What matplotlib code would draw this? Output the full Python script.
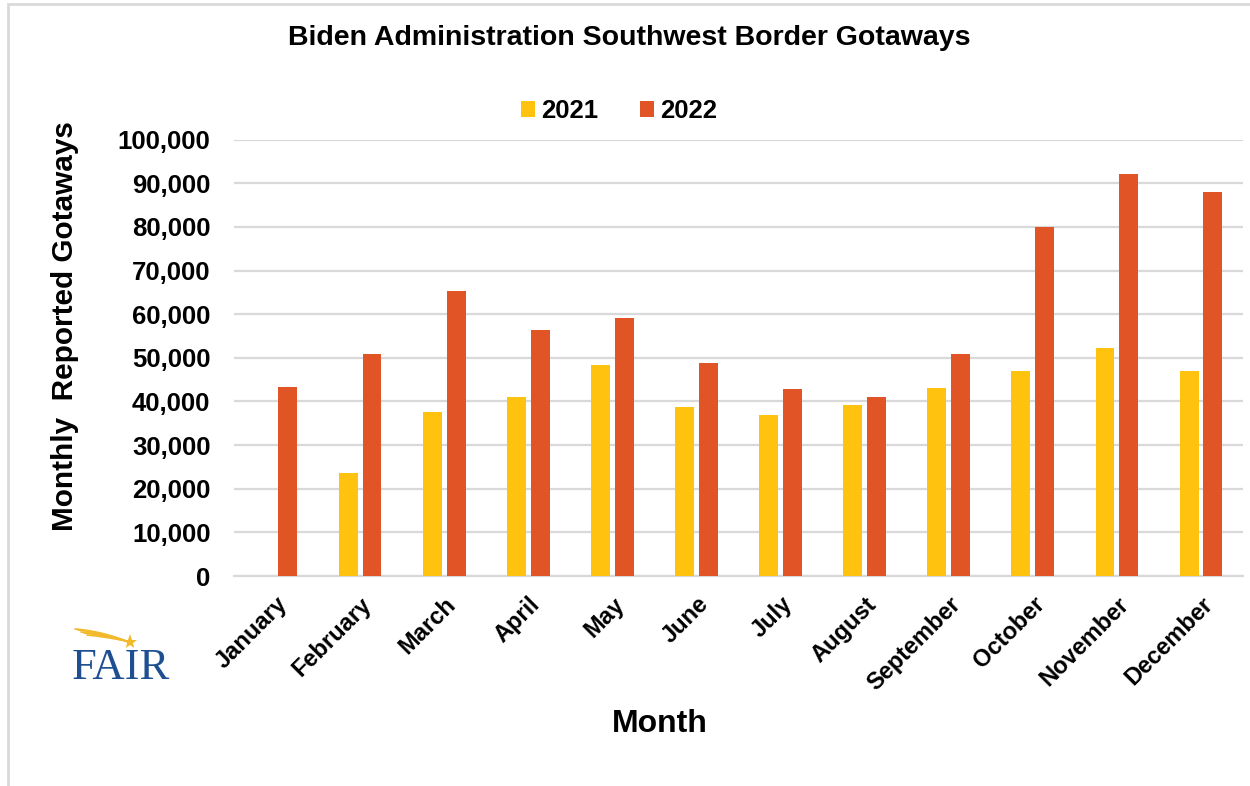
import matplotlib.pyplot as plt
import matplotlib.patches as mpatches
import matplotlib.transforms as mtrans
import numpy as np

months = ['January', 'February', 'March', 'April', 'May', 'June',
          'July', 'August', 'September', 'October', 'November', 'December']
y2021 = [np.nan, 23600, 37700, 41000, 48300, 38700, 36800, 39200, 43000, 47100, 52200, 47100]
y2022 = [43300, 50800, 65400, 56400, 59200, 48800, 42900, 41000, 50800, 80000, 92100, 87900]
yticks = [0, 10000, 20000, 30000, 40000, 50000, 60000, 70000, 80000, 90000, 100000]

c21 = '#FFC20E'
c22 = '#E05426'
grid = '#D9D9D9'

plt.rcParams['font.family'] = 'Liberation Sans'
plt.rcParams['font.weight'] = 'bold'

W, H = 1250, 786
fig = plt.figure(figsize=(W / 100, H / 100), dpi=100)
ax = fig.add_axes([234 / W, 1 - 576 / H, 1009 / W, 436.3 / H])

x = np.arange(len(months))
bw = 0.225
ax.bar(x - 0.141, y2021, bw, color=c21, label='2021', zorder=3)
ax.bar(x + 0.141, y2022, bw, color=c22, label='2022', zorder=3)

ax.set_xlim(-0.5, len(months) - 0.5)
ax.set_ylim(0, 100000)
ax.set_yticks(yticks)
ax.set_yticklabels([f'{v:,}' for v in yticks], fontsize=18.5, fontweight='bold')
ax.set_xticks(x)
ax.set_xticklabels(months, rotation=45, ha='right', rotation_mode='anchor',
                   fontsize=17, fontweight='bold')
shift = mtrans.ScaledTranslation(-8 / 100, 0, fig.dpi_scale_trans)
for lab in ax.get_xticklabels():
    lab.set_transform(lab.get_transform() + shift)
ax.tick_params(axis='y', length=0, pad=17)
ax.tick_params(axis='x', length=0, pad=12)
ax.yaxis.grid(True, color=grid, linewidth=1.6, zorder=0)
for s in ['top', 'right', 'left']:
    ax.spines[s].set_visible(False)
ax.spines['bottom'].set_color(grid)
ax.spines['bottom'].set_linewidth(1.6)

fig.text(629 / W, 1 - 45 / H, 'Biden Administration Southwest Border Gotaways',
         ha='center', va='baseline', fontsize=20.5, fontweight='bold')
fig.text(73 / W, 1 - 326.5 / H, 'Monthly  Reported Gotaways', rotation=90,
         ha='center', va='baseline', rotation_mode='anchor', fontsize=21.4, fontweight='bold')
fig.text(660 / W, 1 - 732 / H, 'Month', ha='center', va='baseline',
         fontsize=23, fontweight='bold')

fig.legend(loc='center', bbox_to_anchor=(619 / W, 1 - 111 / H), ncol=2, frameon=False,
           prop={'size': 18.5, 'weight': 'bold'}, handlelength=0.55, handleheight=0.55,
           handletextpad=0.25, columnspacing=1.6)

# border around the picture
fig.patches.append(mpatches.Rectangle((8 / W, -0.05), 1.2, 1.05 - 4 / H,
                                      transform=fig.transFigure, fill=False,
                                      edgecolor=grid, linewidth=2))

# FAIR logo
lg = fig.add_axes([70 / W, 1 - 690 / H, 110 / W, 70 / H])
lg.set_xlim(0, 110)
lg.set_ylim(70, 0)
lg.axis('off')
lg.text(2, 59, 'FAIR', family='Liberation Serif', fontweight='normal',
        fontsize=32, color='#1D4F91', ha='left', va='baseline')
t = np.linspace(0, 1, 40)
for sx, sy, cy in [(5, 9, 11), (8, 10, 12.5), (11, 12, 14), (14, 13, 15.5), (17, 15, 17)]:
    ex, ey = 56, 21
    cx = (sx + ex) / 2
    bx = (1 - t) ** 2 * sx + 2 * (1 - t) * t * cx + t ** 2 * ex
    by = (1 - t) ** 2 * sy + 2 * (1 - t) * t * cy + t ** 2 * ey
    lg.plot(bx, by, color='#F2B92B', linewidth=1.2, solid_capstyle='round')
lg.plot([60], [22], marker='*', markersize=11, color='#F2B92B', markeredgewidth=0)

fig.savefig('out.png', dpi=100)
